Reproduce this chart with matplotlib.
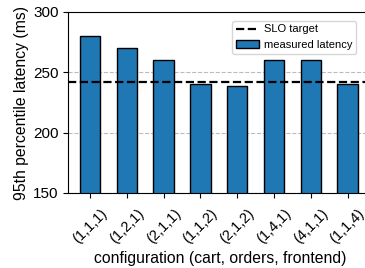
import matplotlib
matplotlib.use("Agg")
import matplotlib.pyplot as plt

configs = ["(1,1,1)", "(1,2,1)", "(2,1,1)", "(1,1,2)", "(2,1,2)", "(1,4,1)", "(4,1,1)", "(1,1,4)"]
latency = [280, 270, 260, 240, 239, 260, 260, 240]
slo_target = 242

plt.rcParams['font.family'] = ['Liberation Sans', 'DejaVu Sans']

fig = plt.figure(figsize=(3.65, 2.68), dpi=100)
W, H = 365, 268
ax = fig.add_axes([68.3 / W, 1 - 193 / H, (370 - 68.3) / W, (193 - 12) / H])

x = list(range(len(configs)))
ax.bar(x, latency, width=0.55, color="#1f77b4", edgecolor="black", linewidth=1,
       label="measured latency", zorder=2)
ax.axhline(slo_target, color="black", linestyle="--", linewidth=1.6, label="SLO target", zorder=3)

ax.set_ylim(150, 300)
ax.set_xlim(-0.59, 7.61)
ax.set_yticks([150, 200, 250, 300])
ax.yaxis.grid(True, linestyle="--", color="#bbbbbb", linewidth=0.8, zorder=0)
ax.set_axisbelow(True)
ax.set_xticks(x)
ax.set_xticklabels(configs, rotation=45, ha="center", fontsize=10.5)
ax.tick_params(axis="x", pad=6)
ax.tick_params(axis="y", labelsize=11)
ax.set_ylabel("95th percentile latency (ms)", fontsize=11.3, labelpad=3)
ax.set_xlabel("configuration (cart, orders, frontend)", fontsize=11.3)
ax.xaxis.set_label_coords(0.503, (193 - 251) / 181)

ax.legend(loc="upper right", bbox_to_anchor=(362 / W, 1 - 15 / H),
          bbox_transform=fig.transFigure, fontsize=8, frameon=True,
          handletextpad=0.5, borderpad=0.35)

fig.savefig("out.png", dpi=100)
